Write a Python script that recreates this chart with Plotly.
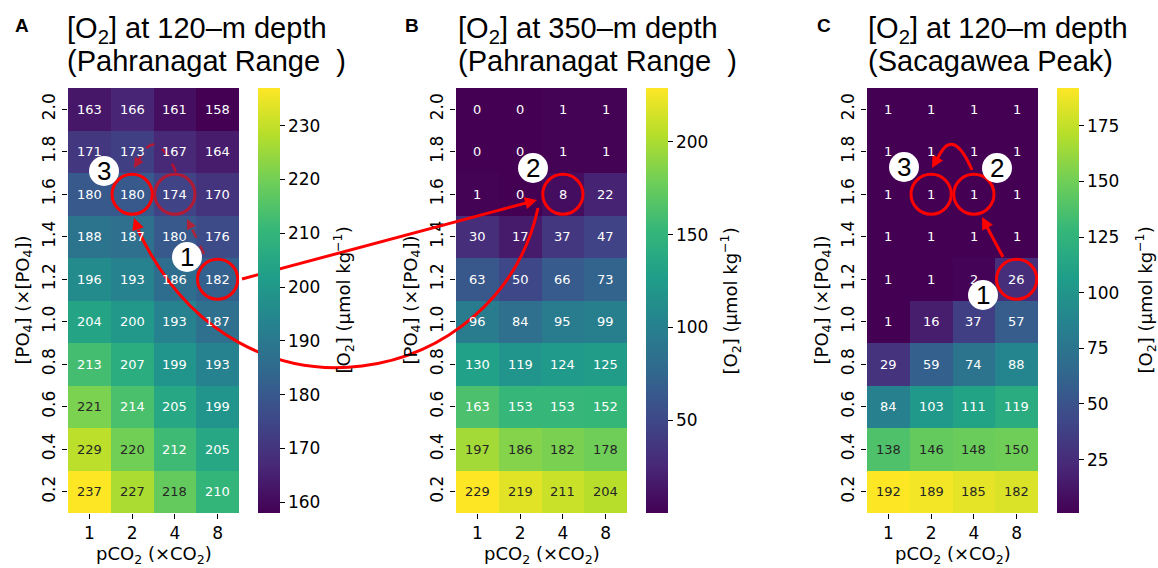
import math
import plotly.graph_objects as go
from plotly.colors import sample_colorscale

W, H = 1158, 568

# ---------------- data ----------------
pco2_labels = ["1", "2", "4", "8"]
po4_labels = ["0.2", "0.4", "0.6", "0.8", "1.0", "1.2", "1.4", "1.6", "1.8", "2.0"]

# rows as displayed, top ([PO4]=2.0) to bottom ([PO4]=0.2); columns pCO2 = 1, 2, 4, 8
o2_120m_pahranagat = [
    [163, 166, 161, 158],
    [171, 173, 167, 164],
    [180, 180, 174, 170],
    [188, 187, 180, 176],
    [196, 193, 186, 182],
    [204, 200, 193, 187],
    [213, 207, 199, 193],
    [221, 214, 205, 199],
    [229, 220, 212, 205],
    [237, 227, 218, 210],
]
o2_350m_pahranagat = [
    [0, 0, 1, 1],
    [0, 0, 1, 1],
    [1, 0, 8, 22],
    [30, 17, 37, 47],
    [63, 50, 66, 73],
    [96, 84, 95, 99],
    [130, 119, 124, 125],
    [163, 153, 153, 152],
    [197, 186, 182, 178],
    [229, 219, 211, 204],
]
o2_120m_sacagawea = [
    [1, 1, 1, 1],
    [1, 1, 1, 1],
    [1, 1, 1, 1],
    [1, 1, 1, 1],
    [1, 1, 2, 26],
    [1, 16, 37, 57],
    [29, 59, 74, 88],
    [84, 103, 111, 119],
    [138, 146, 148, 150],
    [192, 189, 185, 182],
]
cbar_ticks_a = [160, 170, 180, 190, 200, 210, 220, 230]
cbar_ticks_b = [50, 100, 150, 200]
cbar_ticks_c = [25, 50, 75, 100, 125, 150, 175]

titles = [
    ("A", "[O<sub>2</sub>] at 120–m depth", "(Pahranagat Range\u00a0\u00a0)"),
    ("B", "[O<sub>2</sub>] at 350–m depth", "(Pahranagat Range\u00a0\u00a0)"),
    ("C", "[O<sub>2</sub>] at 120–m depth", "(Sacagawea Peak)"),
]

# ---------------- layout geometry (pixels) ----------------
HX0 = [68, 456, 867]      # heatmap left edges
HW = 171                  # heatmap width
TOP, BOT = 88, 513        # heatmap top / bottom
CBX = [258, 646, 1057]    # colorbar left edges
CBT = [343, 730, 1145]    # colorbar title centres
TITLE_X = [65, 456, 866]
LETTER_X = [22, 412, 824]

TICKFONT = dict(family="DejaVu Sans", size=17, color="black")
LABFONT = dict(family="DejaVu Sans", size=18, color="black")


def pp(x, y):
    return x / W, 1 - y / H


def lum(rgbstr):
    vals = [float(v) / 255 for v in rgbstr[rgbstr.index("(") + 1:-1].split(",")]
    lin = [v / 12.92 if v <= 0.03928 else ((v + 0.055) / 1.055) ** 2.4 for v in vals]
    return 0.2126 * lin[0] + 0.7152 * lin[1] + 0.0722 * lin[2]


fig = go.Figure()
annotations = []
shapes = []
layout_axes = {}

datasets = [(o2_120m_pahranagat, cbar_ticks_a), (o2_350m_pahranagat, cbar_ticks_b),
            (o2_120m_sacagawea, cbar_ticks_c)]

for p, (rows, cticks) in enumerate(datasets):
    z = rows[::-1]
    zmin = min(min(r) for r in z)
    zmax = max(max(r) for r in z)
    sfx = "" if p == 0 else str(p + 1)
    xa, ya = "x" + sfx, "y" + sfx
    fig.add_trace(go.Heatmap(
        z=z, x=list(range(4)), y=list(range(10)), colorscale="Viridis",
        zmin=zmin, zmax=zmax, xaxis=xa, yaxis=ya, hoverinfo="skip",
        colorbar=dict(thickness=22, thicknessmode="pixels", len=(BOT - TOP) / H, lenmode="fraction",
                      y=1 - (TOP + BOT) / 2 / H, yanchor="middle", x=CBX[p] / W, xanchor="left",
                      outlinewidth=0, ticks="outside", ticklen=5, tickwidth=1.3, tickcolor="black",
                      tickfont=TICKFONT, tickvals=cticks, xpad=0, ypad=0),
    ))
    layout_axes["xaxis" + sfx] = dict(
        domain=[HX0[p] / W, (HX0[p] + HW) / W], anchor=ya, range=[-0.5, 3.5],
        tickvals=list(range(4)), ticktext=pco2_labels, ticks="outside", ticklen=5, tickwidth=1.3,
        tickcolor="black", tickfont=TICKFONT, showgrid=False, zeroline=False, showline=False,
        fixedrange=True)
    layout_axes["yaxis" + sfx] = dict(
        domain=[1 - BOT / H, 1 - TOP / H], anchor=xa, range=[-0.5, 9.5],
        tickvals=list(range(10)), ticktext=po4_labels, tickangle=-90, ticks="outside", ticklen=5,
        tickwidth=1.3, tickcolor="black", tickfont=TICKFONT, showgrid=False, zeroline=False,
        showline=False, fixedrange=True)
    # cell values
    for j, r in enumerate(z):
        for i, v in enumerate(r):
            c = sample_colorscale("Viridis", (v - zmin) / (zmax - zmin))[0]
            col = "#262626" if lum(c) > 0.408 else "white"
            annotations.append(dict(x=i, y=j, xref=xa, yref=ya, text=str(v), showarrow=False,
                                    font=dict(family="DejaVu Sans", size=13, color=col)))
    # axis labels
    cx = HX0[p] + HW / 2
    annotations.append(dict(x=cx / W, y=1 - 555 / H, xref="paper", yref="paper", showarrow=False,
                            text="pCO<sub>2</sub> (×CO<sub>2</sub>)", font=LABFONT,
                            xanchor="center", yanchor="middle"))
    annotations.append(dict(x=(HX0[p] - 45) / W, y=1 - (TOP + BOT) / 2 / H, xref="paper", yref="paper",
                            showarrow=False, textangle=-90,
                            text="[PO<sub>4</sub>] (×[PO<sub>4</sub>])", font=LABFONT,
                            xanchor="center", yanchor="middle"))
    annotations.append(dict(x=CBT[p] / W, y=1 - (TOP + BOT) / 2 / H, xref="paper", yref="paper",
                            showarrow=False, textangle=-90,
                            text="[O<sub>2</sub>] (μmol kg<sup>−1</sup>)", font=LABFONT,
                            xanchor="center", yanchor="middle"))
    # titles
    letter, l1, l2 = titles[p]
    annotations.append(dict(x=LETTER_X[p] / W, y=1 - 25 / H, xref="paper", yref="paper", showarrow=False,
                            text="<b>" + letter + "</b>",
                            font=dict(family="Liberation Sans", size=19, color="black"),
                            xanchor="center", yanchor="middle"))
    annotations.append(dict(x=TITLE_X[p] / W, y=1 - 30 / H, xref="paper", yref="paper", showarrow=False,
                            text=l1, font=dict(family="Liberation Sans", size=29, color="black"),
                            xanchor="left", yanchor="middle"))
    annotations.append(dict(x=TITLE_X[p] / W, y=1 - 61 / H, xref="paper", yref="paper", showarrow=False,
                            text=l2, font=dict(family="Liberation Sans", size=29, color="black"),
                            xanchor="left", yanchor="middle"))

RED = "red"
FADE = "rgba(255,0,0,0.6)"
R = 0.47


def ring(xa, ya, i, j, opacity=1.0):
    shapes.append(dict(type="circle", xref=xa, yref=ya, x0=i - R, x1=i + R, y0=j - R, y1=j + R,
                       line=dict(color=RED, width=3), opacity=opacity, layer="above"))


def head(tip, frm, color=RED, length=12, half=6):
    # filled triangular arrowhead at tip (pixels), pointing away from frm
    dx, dy = tip[0] - frm[0], tip[1] - frm[1]
    n = math.hypot(dx, dy)
    ux, uy = dx / n, dy / n
    bx, by = tip[0] - ux * length, tip[1] - uy * length
    p1 = pp(bx - uy * half, by + ux * half)
    p2 = pp(bx + uy * half, by - ux * half)
    t = pp(*tip)
    path = "M {},{} L {},{} L {},{} Z".format(t[0], t[1], p1[0], p1[1], p2[0], p2[1])
    shapes.append(dict(type="path", xref="paper", yref="paper", path=path, fillcolor=color,
                       line=dict(width=0), layer="above"))


def curve(pts, color=RED, width=3, dash="solid"):
    q = [pp(*pt) for pt in pts]
    cmd = "L" if len(q) == 2 else ("Q" if len(q) == 3 else "C")
    path = "M {},{} {} ".format(q[0][0], q[0][1], cmd) + " ".join("{},{}".format(a, b) for a, b in q[1:])
    shapes.append(dict(type="path", xref="paper", yref="paper", path=path,
                       line=dict(color=color, width=width, dash=dash), layer="above"))


def badge(center, label):
    x, y = center
    r = 15
    x0, y0 = pp(x - r, y + r)
    x1, y1 = pp(x + r, y - r)
    shapes.append(dict(type="circle", xref="paper", yref="paper", x0=x0, x1=x1, y0=y0, y1=y1,
                       fillcolor="white", line=dict(width=0), layer="above"))
    cx, cy = pp(x, y)
    annotations.append(dict(x=cx, y=cy, xref="paper", yref="paper", text=label, showarrow=False,
                            font=dict(family="Liberation Sans", size=26, color="black"),
                            xanchor="center", yanchor="middle"))


# Panel A decorations
ring("x", "y", 3, 5)
ring("x", "y", 1, 7)
ring("x", "y", 2, 7, opacity=0.6)
curve([(204, 254), (192, 229)], FADE, 2.5, "dash")
head((187, 219), (204, 254), FADE, 10, 5)
curve([(176, 172), (155, 124), (139, 160)], FADE, 2.5, "dash")
head((134, 168), (146, 148), FADE, 10, 5)
# cross-panel arrows
curve([(242, 279), (526, 203)])
head((537, 200), (242, 279))
curve([(538, 208), (500, 385), (240, 445), (138, 230)])
head((134, 218), (139, 232))
badge((187, 257), "1")
badge((104, 171), "3")

# Panel B
ring("x2", "y2", 2, 7)
badge((533, 168), "2")

# Panel C
ring("x3", "y3", 3, 5)
ring("x3", "y3", 1, 7)
ring("x3", "y3", 2, 7)
curve([(1003, 257), (987, 227)])
head((982, 217), (1003, 257))
curve([(972, 170), (952, 124), (937, 160)])
head((932, 168), (942, 150))
badge((904, 167), "3")
badge((997, 168), "2")
badge((983, 295), "1")

fig.update_layout(
    width=W, height=H, margin=dict(l=0, r=0, t=0, b=0),
    paper_bgcolor="white", plot_bgcolor="white", showlegend=False,
    annotations=annotations, shapes=shapes, **layout_axes,
)

fig.write_html("out.html", config={"displayModeBar": False},
               post_script="document.body.style.margin='0';document.body.style.overflow='hidden';")
